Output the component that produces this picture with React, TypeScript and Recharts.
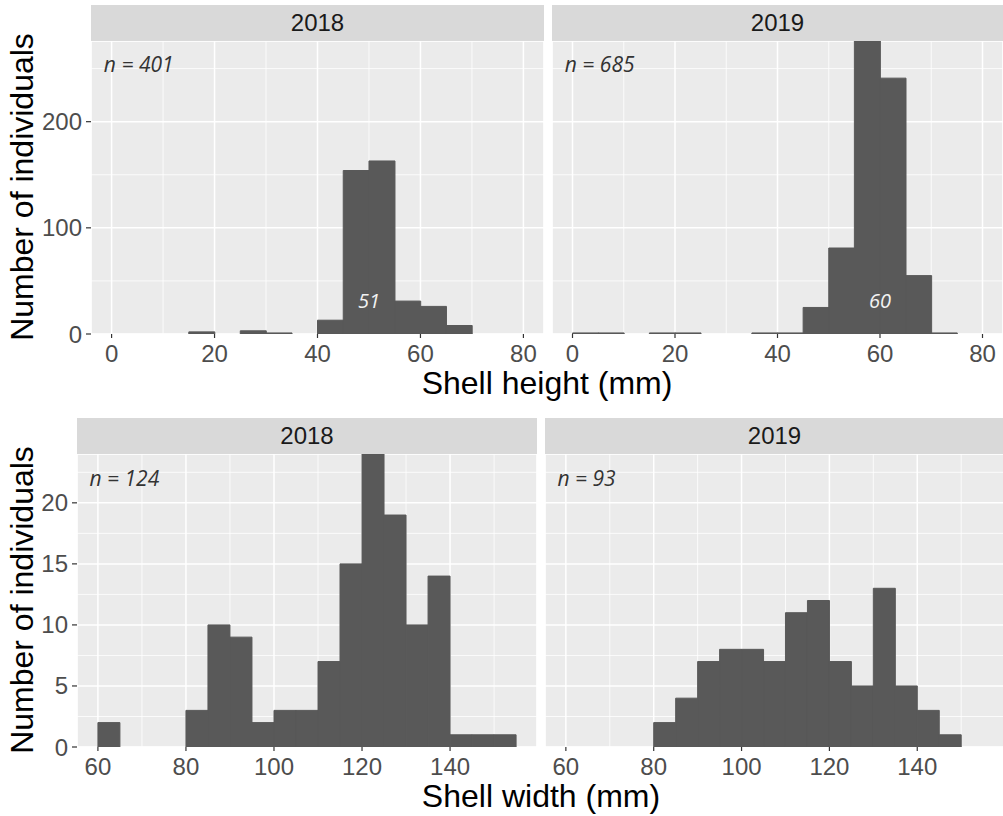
import React from 'react';
import { ComposedChart, Bar, XAxis, YAxis, CartesianGrid, ReferenceDot } from 'recharts';

// shell height histogram, 5 mm bins from 0 to 80 (bin centres)
const heightBins = [2.5, 7.5, 12.5, 17.5, 22.5, 27.5, 32.5, 37.5, 42.5, 47.5, 52.5, 57.5, 62.5, 67.5, 72.5, 77.5];
const height2018 = [0, 0, 0, 2, 0, 3, 1, 0, 13, 154, 163, 31, 26, 8, 0, 0];
const height2019 = [1, 1, 0, 1, 1, 0, 0, 1, 1, 25, 81, 276, 241, 55, 1, 0];

// shell width histogram, 5 mm bins from 60 to 155 (bin centres)
const widthBins = [62.5, 67.5, 72.5, 77.5, 82.5, 87.5, 92.5, 97.5, 102.5, 107.5, 112.5, 117.5, 122.5, 127.5, 132.5, 137.5, 142.5, 147.5, 152.5];
const width2018 = [2, 0, 0, 0, 3, 10, 9, 2, 3, 3, 7, 15, 24, 19, 10, 14, 1, 1, 1];
const width2019 = [0, 0, 0, 0, 2, 4, 7, 8, 8, 7, 11, 12, 7, 5, 13, 5, 3, 1, 0];

const heightTicks = [0, 20, 40, 60, 80];
const heightMinor = [10, 30, 50, 70];
const heightCountTicks = [0, 100, 200];
const heightCountMinor = [50, 150, 250];

const widthTicks = [60, 80, 100, 120, 140];
const widthMinor = [70, 90, 110, 130, 150];
const widthCountTicks = [0, 5, 10, 15, 20];
const widthCountMinor = [2.5, 7.5, 12.5, 17.5, 22.5];

const FONT = '"Liberation Sans", Arial, sans-serif';
const NOTE_FONT = '"Open Sans", "Liberation Sans", sans-serif';
const PLOT_H = 293;
const STRIP_H = 36;

const NoteText = ({ viewBox, text, anchor, color, size }: any) => (
  <text
    x={viewBox?.x}
    y={viewBox?.y}
    textAnchor={anchor}
    dominantBaseline="central"
    fill={color}
    fontSize={size}
    fontStyle="italic"
    fontFamily={NOTE_FONT}
  >
    {text}
  </text>
);

interface PanelProps {
  left: number
  top: number
  width: number
  yAxisWidth: number
  year: string
  bins: number[]
  counts: number[]
  xDomain: [number, number]
  xTicks: number[]
  xMinor: number[]
  yDomain: [number, number]
  yTicks: number[]
  yMinor: number[]
  nText: string
  nPos: [number, number]
  mode?: [number, number, string]
}

const Panel: React.FC<PanelProps> = ({
  left, top, width, yAxisWidth, year, bins, counts, xDomain, xTicks, xMinor, yDomain, yTicks, yMinor, nText, nPos, mode,
}) => {
  const data = bins.map((x, i) => ({ x, count: counts[i] }));
  return (
    <>
      <div
        style={{
          position: 'absolute',
          left: left + yAxisWidth,
          top: top - STRIP_H,
          width: width - yAxisWidth,
          height: STRIP_H,
          background: '#d9d9d9',
          color: '#1a1a1a',
          fontSize: 24,
          lineHeight: `${STRIP_H}px`,
          textAlign: 'center',
        }}
      >
        {year}
      </div>
      <div style={{ position: 'absolute', left, top }}>
        <ComposedChart
          width={width}
          height={PLOT_H + 40}
          data={data}
          margin={{ top: 0, right: 0, bottom: 0, left: 0 }}
          barCategoryGap={0}
          barGap={0}
        >
          <XAxis xAxisId="minor" type="number" dataKey="x" domain={xDomain} ticks={xMinor} allowDataOverflow hide />
          <YAxis yAxisId="minor" type="number" domain={yDomain} ticks={yMinor} allowDataOverflow hide />
          <CartesianGrid xAxisId="minor" yAxisId="minor" fill="#ebebeb" fillOpacity={1} stroke="#ffffff" strokeWidth={0.8} />
          <CartesianGrid stroke="#ffffff" strokeWidth={1.5} />
          <XAxis
            type="number"
            dataKey="x"
            domain={xDomain}
            ticks={xTicks}
            interval={0}
            allowDataOverflow
            axisLine={false}
            tickLine={{ stroke: '#333333', strokeWidth: 1.2 }}
            tickSize={4}
            tickMargin={7}
            height={40}
            tick={{ fill: '#4d4d4d', fontSize: 24 }}
          />
          <YAxis
            type="number"
            domain={yDomain}
            ticks={yTicks}
            interval={0}
            allowDataOverflow
            hide={yAxisWidth === 0}
            width={yAxisWidth}
            axisLine={false}
            tickLine={{ stroke: '#333333', strokeWidth: 1.2 }}
            tickSize={5}
            tickMargin={4}
            tick={{ fill: '#4d4d4d', fontSize: 24 }}
          />
          <Bar dataKey="count" fill="#595959" stroke="#595959" strokeWidth={1} isAnimationActive={false} />
          <ReferenceDot
            x={nPos[0]}
            y={nPos[1]}
            r={0}
            fill="none"
            stroke="none"
            label={<NoteText text={nText} anchor="start" color="#333333" size={21} />}
          />
          {mode && (
            <ReferenceDot
              x={mode[0]}
              y={mode[1]}
              r={0}
              fill="none"
              stroke="none"
              label={<NoteText text={mode[2]} anchor="middle" color="#f2f2f2" size={20} />}
            />
          )}
        </ComposedChart>
      </div>
    </>
  );
};

export default function App() {
  return (
    <div
      style={{
        position: 'absolute',
        left: 0,
        top: 0,
        width: 1003,
        height: 816,
        background: '#ffffff',
        overflow: 'hidden',
        fontFamily: FONT,
      }}
    >
      <Panel
        left={0} top={41} width={544} yAxisWidth={91} year="2018"
        bins={heightBins} counts={height2018}
        xDomain={[-4, 84]} xTicks={heightTicks} xMinor={heightMinor}
        yDomain={[0, 276]} yTicks={heightCountTicks} yMinor={heightCountMinor}
        nText="n = 401" nPos={[-1.5, 254]} mode={[50, 31.5, '51']}
      />
      <Panel
        left={552} top={41} width={451} yAxisWidth={0} year="2019"
        bins={heightBins} counts={height2019}
        xDomain={[-4, 84]} xTicks={heightTicks} xMinor={heightMinor}
        yDomain={[0, 276]} yTicks={heightCountTicks} yMinor={heightCountMinor}
        nText="n = 685" nPos={[-1.5, 254]} mode={[60, 31.5, '60']}
      />
      <Panel
        left={0} top={454} width={537} yAxisWidth={77} year="2018"
        bins={widthBins} counts={width2018}
        xDomain={[55.25, 159.75]} xTicks={widthTicks} xMinor={widthMinor}
        yDomain={[0, 24]} yTicks={widthCountTicks} yMinor={widthCountMinor}
        nText="n = 124" nPos={[58.1, 22]}
      />
      <Panel
        left={545} top={454} width={459} yAxisWidth={0} year="2019"
        bins={widthBins} counts={width2019}
        xDomain={[55.25, 159.75]} xTicks={widthTicks} xMinor={widthMinor}
        yDomain={[0, 24]} yTicks={widthCountTicks} yMinor={widthCountMinor}
        nText="n = 93" nPos={[58.1, 22]}
      />
      <svg
        width={1003}
        height={816}
        style={{ position: 'absolute', left: 0, top: 0, pointerEvents: 'none' }}
      >
        <text x={547} y={394} textAnchor="middle" fontSize={32} fill="#000000">Shell height (mm)</text>
        <text x={541} y={807} textAnchor="middle" fontSize={32} fill="#000000">Shell width (mm)</text>
        <text transform="translate(33,187) rotate(-90)" textAnchor="middle" fontSize={32} fill="#000000">Number of individuals</text>
        <text transform="translate(33,600) rotate(-90)" textAnchor="middle" fontSize={32} fill="#000000">Number of individuals</text>
      </svg>
    </div>
  );
}
